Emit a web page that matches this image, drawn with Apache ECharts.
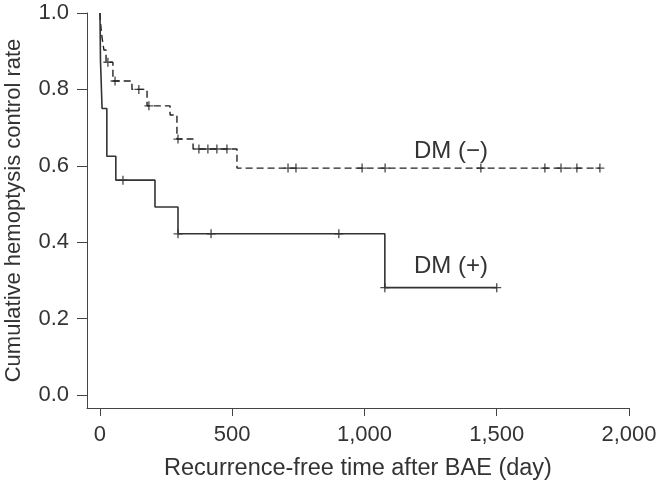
<!DOCTYPE html>
<html>
<head>
<meta charset="utf-8">
<script src="https://cdn.jsdelivr.net/npm/echarts@6/dist/echarts.min.js"></script>
<style>
  html, body { margin: 0; padding: 0; background: #fff; }
  #chart { width: 662px; height: 481px; }
</style>
</head>
<body>
<div id="chart"></div>
<script>
// DM (-) group: event times and survival after each step (last point = end of follow-up)
var dmNegTimes = [0, 3, 8, 15, 23, 49, 121, 178, 265, 291, 352, 518, 1890];
var dmNegRates = [1.0, 0.968, 0.935, 0.903, 0.871, 0.822, 0.800, 0.757, 0.733, 0.670, 0.644, 0.594, 0.594];
var dmNegCensored = [30, 57, 147, 185, 295, 374, 408, 442, 480, 711, 741, 991, 1078, 1440, 1682, 1743, 1803, 1890];

// DM (+) group
var dmPosTimes = [0, 2, 8, 26, 60, 208, 295, 1077, 1500];
var dmPosRates = [1.0, 0.875, 0.75, 0.625, 0.5625, 0.492, 0.422, 0.281, 0.281];
var dmPosCensored = [87, 295, 420, 903, 1077, 1500];

var xTicks = [0, 500, 1000, 1500, 2000];
var yTicks = [0, 0.2, 0.4, 0.6, 0.8, 1.0];

var FONT = 'Liberation Sans, Arial, sans-serif';
var CROSS = 'path://M8.5,0H11.5V8.5H20V11.5H11.5V20H8.5V11.5H0V8.5H8.5Z';

function pairs(times, rates) {
  return times.map(function(t, i) { return [t, rates[i]]; });
}

// survival value at time t from the step curve
function rateAt(times, rates, t) {
  var r = rates[0];
  for (var i = 0; i < times.length; i++) {
    if (times[i] <= t) r = rates[i];
  }
  return r;
}

function censorMarks(censored, times, rates) {
  return censored.map(function(t) { return [t, rateAt(times, rates, t)]; });
}

var chart = echarts.init(document.getElementById('chart'));

chart.setOption({
  animation: false,
  grid: { left: 87, right: 33, top: 13, bottom: 73, containLabel: false, outerBoundsMode: 'none' },
  xAxis: {
    type: 'value',
    min: -49,
    max: 2000,
    splitLine: { show: false },
    axisLine: { show: true, onZero: false, lineStyle: { color: '#444', width: 1 } },
    axisTick: { show: true, length: 8, customValues: xTicks, lineStyle: { color: '#444' } },
    axisLabel: {
      customValues: xTicks,
      margin: 16,
      color: '#333',
      fontSize: 22,
      fontFamily: FONT,
      formatter: function(v) { return v.toLocaleString('en-US'); }
    },
    name: 'Recurrence-free time after BAE (day)',
    nameLocation: 'middle',
    nameGap: 49,
    nameTextStyle: { color: '#333', fontSize: 23.5, fontFamily: FONT }
  },
  yAxis: {
    type: 'value',
    min: -0.034,
    max: 1.0,
    splitLine: { show: false },
    axisLine: { show: true, onZero: false, lineStyle: { color: '#444', width: 1 } },
    axisTick: { show: true, length: 10, customValues: yTicks, lineStyle: { color: '#444' } },
    axisLabel: {
      customValues: yTicks,
      margin: 18,
      color: '#333',
      fontSize: 22,
      fontFamily: FONT,
      formatter: function(v) { return v.toFixed(1); }
    },
    name: 'Cumulative hemoptysis control rate',
    nameLocation: 'middle',
    nameGap: 62,
    nameTextStyle: { color: '#333', fontSize: 22, fontFamily: FONT }
  },
  series: [
    {
      name: 'DM (-)',
      type: 'line',
      step: 'end',
      showSymbol: false,
      data: pairs(dmNegTimes, dmNegRates),
      lineStyle: { color: '#222', width: 1.4, type: [7, 4] }
    },
    {
      name: 'DM (-) censored',
      type: 'scatter',
      symbol: CROSS,
      symbolSize: 9,
      data: censorMarks(dmNegCensored, dmNegTimes, dmNegRates),
      itemStyle: { color: '#222' }
    },
    {
      name: 'DM (+)',
      type: 'line',
      step: 'end',
      showSymbol: false,
      data: pairs(dmPosTimes, dmPosRates),
      lineStyle: { color: '#333', width: 1.6 }
    },
    {
      name: 'DM (+) censored',
      type: 'scatter',
      symbol: CROSS,
      symbolSize: 9,
      data: censorMarks(dmPosCensored, dmPosTimes, dmPosRates),
      itemStyle: { color: '#222' }
    }
  ],
  graphic: [
    {
      type: 'text',
      x: 414, y: 151,
      style: { text: 'DM (\u2212)', font: '24px ' + FONT, fill: '#333', verticalAlign: 'middle' }
    },
    {
      type: 'text',
      x: 414, y: 266,
      style: { text: 'DM (+)', font: '24px ' + FONT, fill: '#333', verticalAlign: 'middle' }
    }
  ]
});
</script>
</body>
</html>
